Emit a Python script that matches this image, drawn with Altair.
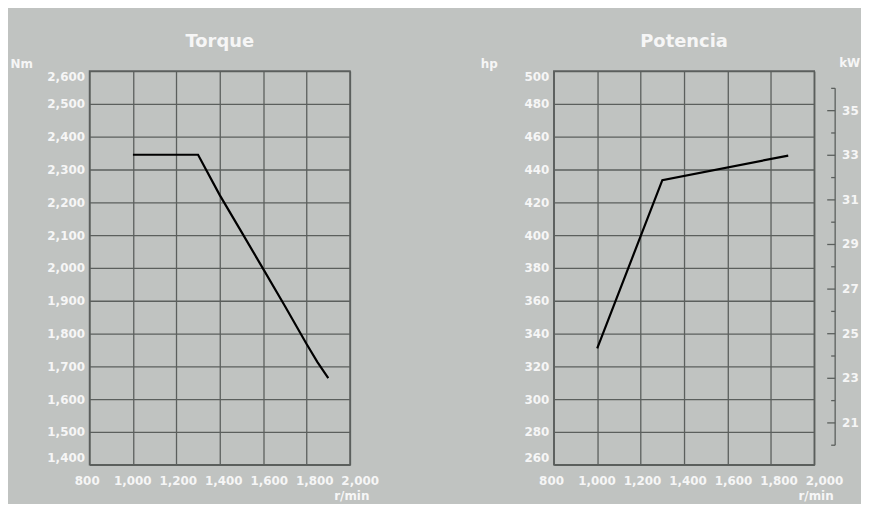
import altair as alt
import pandas as pd

# ---- data ----
torque_rpm = [1000, 1300, 1400, 1500, 1600, 1700, 1800, 1850, 1900]
torque_nm = [2345, 2345, 2222, 2110, 1997, 1884, 1768, 1713, 1664]
power_rpm = [1000, 1300, 1880]
power_hp = [331, 433.5, 448.5]
rpm_ticks = [800, 1000, 1200, 1400, 1600, 1800, 2000]
nm_ticks = [1400, 1500, 1600, 1700, 1800, 1900, 2000, 2100, 2200, 2300, 2400, 2500, 2600]
hp_ticks = [260, 280, 300, 320, 340, 360, 380, 400, 420, 440, 460, 480, 500]
kw_major = [210, 230, 250, 270, 290, 310, 330, 350]
kw_minor = [200, 220, 240, 260, 280, 300, 320, 340, 360]
kw_span = [200, 360]
HP_PER_KW = 1.35962  # metric horsepower per kW

# ---- styles ----
W, H = 262, 396
BG = "#c0c3c1"
GRID = "#5b5f5d"
TXT = "#f6f6f6"
FONT = "DejaVu Sans"


def x_enc(field):
    return alt.X(
        f"{field}:Q",
        scale=alt.Scale(domain=[800, 2000], nice=False, zero=False),
        axis=alt.Axis(
            values=rpm_ticks, labels=False, ticks=False, domain=False, grid=True,
            gridColor=GRID, gridWidth=1.3, gridOpacity=1,
            title="r/min", titleX=W + 19, titleY=35, titleAlign="right",
            titleBaseline="alphabetic", titleFont=FONT, titleFontSize=12,
            titleFontWeight="bold", titleColor=TXT,
        ),
    )


def y_enc(field, domain, ticks, title, title_x):
    return alt.Y(
        f"{field}:Q",
        scale=alt.Scale(domain=domain, nice=False, zero=False),
        axis=alt.Axis(
            values=ticks, format=",d", ticks=False, domain=False, grid=True,
            gridColor=GRID, gridWidth=1.3, gridOpacity=1,
            labelPadding=5, labelFlush=True, labelOverlap=False,
            labelFont=FONT, labelFontSize=12, labelFontWeight="bold", labelColor=TXT,
            title=title, titleAngle=0, titleX=title_x, titleY=-4, titleAlign="left",
            titleBaseline="alphabetic", titleFont=FONT, titleFontSize=12,
            titleFontWeight="bold", titleColor=TXT,
        ),
    )


def x_labels():
    return alt.Chart(pd.DataFrame({"v": rpm_ticks})).mark_text(
        font=FONT, fontSize=12, fontWeight="bold", color=TXT, baseline="middle", align="center"
    ).encode(
        x=alt.X("v:Q", scale=alt.Scale(domain=[810, 1955], nice=False, zero=False), axis=None),
        y=alt.value(H + 16),
        text=alt.Text("v:Q", format=",d"),
    )


def title(t):
    return alt.TitleParams(
        t, font=FONT, fontSize=18, fontWeight="bold", color=TXT,
        anchor="middle", frame="group", baseline="alphabetic", offset=-8,
    )


# ---- Torque panel ----
tq = pd.DataFrame({"rpm": torque_rpm, "nm": torque_nm})
tq_line = alt.Chart(tq).mark_line(color="black", strokeWidth=2.2).encode(
    x=x_enc("rpm"), y=y_enc("nm", [1400, 2600], nm_ticks, "Nm", -80)
)
left = alt.layer(tq_line, x_labels()).resolve_scale(x="independent").properties(
    width=W, height=H, title=title("Torque")
)

# ---- Potencia panel ----
pw = pd.DataFrame({"rpm": power_rpm, "hp": power_hp})
hp_y = lambda f: y_enc(f, [260, 500], hp_ticks, "hp", -74)
pw_line = alt.Chart(pw).mark_line(color="black", strokeWidth=2.2).encode(
    x=x_enc("rpm"), y=hp_y("hp")
)

AX = W + 21
kw_dom = alt.Chart(pd.DataFrame({"lo": [kw_span[0]], "hi": [kw_span[1]]})).transform_calculate(
    a=f"datum.lo*{HP_PER_KW}", b=f"datum.hi*{HP_PER_KW}"
).mark_rule(color=GRID, strokeWidth=1.3).encode(
    x=alt.value(AX), y=hp_y("a"), y2="b:Q"
)
kw_maj = alt.Chart(pd.DataFrame({"kw": kw_major})).transform_calculate(
    a=f"datum.kw*{HP_PER_KW}"
).mark_rule(color=GRID, strokeWidth=1.3).encode(
    x=alt.value(AX - 8), x2=alt.value(AX), y=hp_y("a")
)
kw_min = alt.Chart(pd.DataFrame({"kw": kw_minor})).transform_calculate(
    a=f"datum.kw*{HP_PER_KW}"
).mark_rule(color=GRID, strokeWidth=1.3).encode(
    x=alt.value(AX - 4), x2=alt.value(AX), y=hp_y("a")
)
kw_lab = alt.Chart(pd.DataFrame({"kw": kw_major})).transform_calculate(
    a=f"datum.kw*{HP_PER_KW}"
).mark_text(
    font=FONT, fontSize=12, fontWeight="bold", color=TXT, align="left",
    baseline="middle", limit=18, ellipsis="\u200b"
).encode(
    x=alt.value(AX + 7), y=hp_y("a"), text=alt.Text("kw:Q", format="d")
)
kw_title = alt.Chart(pd.DataFrame({"t": ["kW"]})).mark_text(
    font=FONT, fontSize=12, fontWeight="bold", color=TXT, align="left",
    baseline="alphabetic"
).encode(x=alt.value(AX + 4), y=alt.value(-4), text="t:N")

right = alt.layer(
    pw_line, kw_dom, kw_maj, kw_min, kw_lab, kw_title, x_labels()
).resolve_scale(x="independent").properties(width=W, height=H, title=title("Potencia"))

chart = alt.hconcat(left, right, spacing=99).properties(
    background=BG,
    padding={"left": 1, "top": 23, "right": 0, "bottom": 0},
).configure_view(stroke=GRID, strokeWidth=1.5)

chart.save("out.html", embed_options={"renderer": "svg", "actions": False})
